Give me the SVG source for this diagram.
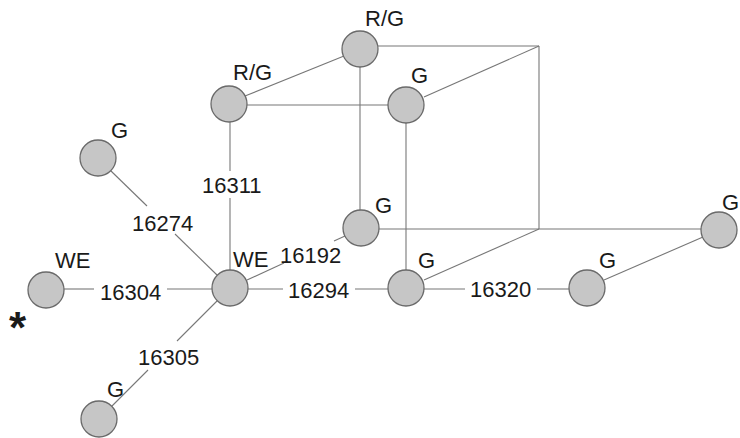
<svg xmlns="http://www.w3.org/2000/svg" width="740" height="438" viewBox="0 0 740 438">
<style>
.n{fill:#c6c6c6;stroke:#6a6a6a;stroke-width:1.3}
.c line{stroke:#777;stroke-width:1.1}
text{font-family:"Liberation Sans",Arial,sans-serif;font-size:22px;fill:#1a1a1a}
.ast{font-size:44px;font-weight:bold}
</style>
<rect width="740" height="438" fill="#fff"/>
<g id="connectors" class="c">
<line x1="378" y1="46" x2="539" y2="46"/>
<line x1="245" y1="96" x2="344" y2="56"/>
<line x1="247" y1="105" x2="388" y2="105"/>
<line x1="424" y1="97" x2="539" y2="46"/>
<line x1="539" y1="46" x2="539" y2="229"/>
<line x1="360" y1="66" x2="360" y2="210"/>
<line x1="406" y1="123" x2="406" y2="270"/>
<line x1="379" y1="229" x2="701" y2="229"/>
<line x1="424" y1="280" x2="539" y2="229"/>
<line x1="604" y1="280" x2="703" y2="237"/>
<line x1="64" y1="289" x2="94" y2="289"/>
<line x1="167" y1="289" x2="212" y2="289"/>
<line x1="248" y1="289" x2="283" y2="289"/>
<line x1="355" y1="289" x2="388" y2="289"/>
<line x1="424" y1="289" x2="465" y2="289"/>
<line x1="537" y1="289" x2="569" y2="289"/>
<line x1="230" y1="122" x2="230" y2="171"/>
<line x1="230" y1="198" x2="230" y2="270"/>
<line x1="111" y1="171" x2="147" y2="206"/>
<line x1="175" y1="234" x2="217" y2="275"/>
<line x1="247" y1="280" x2="284" y2="263"/>
<line x1="334" y1="241" x2="345" y2="236"/>
<line x1="217" y1="301" x2="177" y2="341"/>
<line x1="148" y1="370" x2="112" y2="406"/>
</g>
<g id="n_rg_top"><circle class="n" cx="360" cy="49" r="18"/><text x="365" y="26">R/G</text></g>
<g id="n_rg_left"><circle class="n" cx="229" cy="104" r="18"/><text x="233" y="80">R/G</text></g>
<g id="n_g_cube_tr"><circle class="n" cx="406" cy="105" r="18"/><text x="411" y="83">G</text></g>
<g id="n_g_topleft"><circle class="n" cx="98" cy="158" r="18"/><text x="111" y="138">G</text></g>
<g id="n_g_mid"><circle class="n" cx="361" cy="228" r="18"/><text x="375" y="213">G</text></g>
<g id="n_g_right"><circle class="n" cx="719" cy="230" r="18"/><text x="722" y="210">G</text></g>
<g id="n_we_center"><circle class="n" cx="230" cy="288" r="18"/><text x="233" y="267">WE</text></g>
<g id="n_we_left"><circle class="n" cx="46" cy="290" r="18"/><text x="55" y="268">WE</text><text class="ast" x="9" y="343">*</text></g>
<g id="n_g_bottom"><circle class="n" cx="99" cy="419" r="18"/><text x="107" y="397">G</text></g>
<g id="n_g_288"><circle class="n" cx="406" cy="288" r="18"/><text x="418" y="268">G</text></g>
<g id="n_g_587"><circle class="n" cx="587" cy="288" r="18"/><text x="599" y="268">G</text></g>
<g id="labels">
<text x="202" y="193">16311</text>
<text x="132" y="231">16274</text>
<text x="280" y="263">16192</text>
<text x="100" y="300">16304</text>
<text x="288" y="298">16294</text>
<text x="470" y="297">16320</text>
<text x="138" y="365">16305</text>
</g>
</svg>
